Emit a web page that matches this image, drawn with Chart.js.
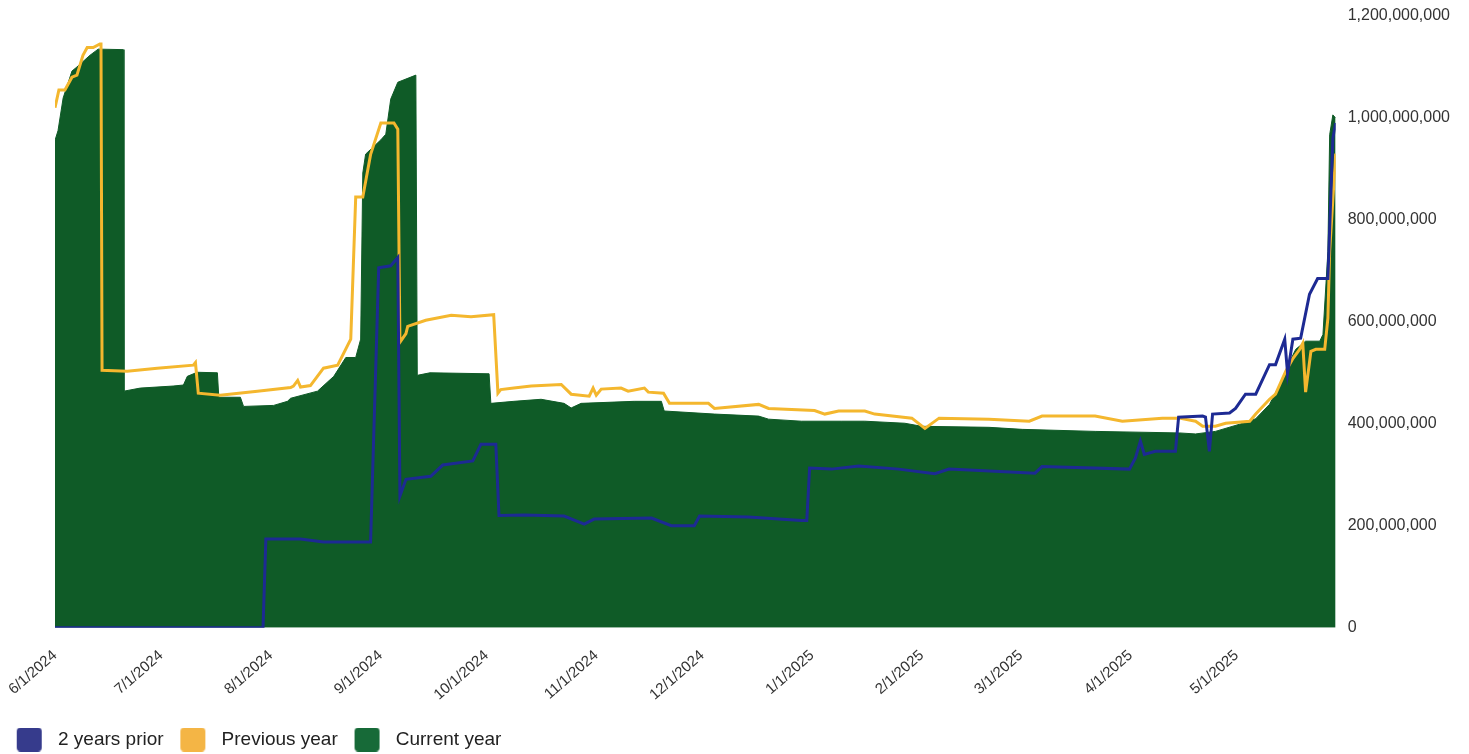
<!DOCTYPE html>
<html>
<head>
<meta charset="utf-8">
<title>Balances</title>
<script src="https://cdn.jsdelivr.net/npm/chart.js@4.4.1/dist/chart.umd.min.js"></script>
<style>
  html, body { margin: 0; padding: 0; background: #fff; }
  #wrap { width: 1469px; height: 754px; }
</style>
</head>
<body>
<div id="wrap"><canvas id="balanceChart"></canvas></div>
<script>
// x = days since 6/1/2024, y = millions
const tickDays = [0, 30, 61, 92, 122, 153, 183, 214, 245, 273, 304, 334];
const tickLabels = ["6/1/2024", "7/1/2024", "8/1/2024", "9/1/2024", "10/1/2024", "11/1/2024",
  "12/1/2024", "1/1/2025", "2/1/2025", "3/1/2025", "4/1/2025", "5/1/2025"];

const priorDays = [0, 58.8, 59.6, 69.4, 75.9, 89.2, 91.5, 94.9, 96.9, 97.5, 99.2, 106.2, 109.6, 118.1,
  120.4, 124.6, 125.5, 132.6, 143.9, 149.6, 152.4, 168.6, 174.2, 180.7, 182.2, 196, 211, 212.5, 213.3,
  219.5, 227.2, 238.5, 248.7, 252.7, 277, 279, 303.7, 305.4, 306.8, 307.9, 311, 316.7, 317.6, 324.4,
  325.2, 326.3, 327.2, 332, 333.7, 336.5, 339.4, 343.3, 345, 347.6, 348.4, 349.9, 352.1, 354.6, 356.9,
  359.8, 361.2, 362];
const priorValues = [0, 0, 174, 174, 168, 168, 706, 710, 726, 258, 291, 297, 319, 327,
  360, 360, 220, 221, 219, 203, 213, 215, 200, 200, 219, 217, 210, 210, 313,
  311, 317, 311, 302, 311, 303, 316, 311, 333, 366, 340, 346, 346, 413, 415,
  413, 346, 419, 421, 430, 458, 458, 516, 516, 566, 499, 566, 568, 654, 685,
  685, 960, 990];

const prevDays = [0, 1.1, 2.8, 4.8, 6.2, 7.9, 9.1, 10.8, 12.7, 13, 13.3, 20.4, 28.9, 39.1, 39.7, 40.5,
  46.7, 57.2, 66.6, 67.4, 68.6, 69.4, 72.2, 75.9, 79.9, 83.6, 85, 87, 89.2, 92.1, 95.8, 96.9, 97.5,
  99.2, 99.7, 104.8, 112, 117.6, 124, 125.2, 126, 129.7, 134.6, 143.1, 145.9, 151, 152.1, 153, 154.4,
  160, 162, 166.6, 167.7, 172, 173.7, 184.7, 186.4, 198.9, 201.7, 214.7, 217.6, 221.5, 228.9, 231.7,
  242.2, 245.9, 249.9, 264, 275.4, 279, 294, 301.7, 313, 317.8, 322.4, 324.4, 328, 330.9, 337.7, 339.4,
  343.3, 345, 347.9, 349.9, 351.8, 352.7, 353.5, 355, 356.4, 358.9, 359.8, 360.3, 362];
const prevValues = [1020, 1055, 1055, 1080, 1084, 1123, 1138, 1138, 1145, 1145, 505, 503, 509, 515, 520, 460,
  456, 464, 471, 474, 485, 472, 475, 509, 515, 566, 845, 845, 928, 990, 990, 978, 560,
  577, 591, 603, 613, 610, 614, 460, 467, 470, 474, 477, 458, 454, 470, 456, 468,
  470, 464, 470, 462, 460, 440, 440, 430, 438, 430, 426, 419, 425, 425, 419,
  411, 391, 411, 409, 405, 415, 415, 405, 411, 411, 405, 395, 395, 401, 405, 419,
  448, 458, 503, 528, 546, 558, 462, 542, 546, 546, 607, 738, 930];

const currDays = [0, 0.85, 2.3, 4.8, 6.2, 9.9, 12.2, 19.3, 19.5, 24.1, 33.4, 36.3, 37.4, 40.2, 45.9,
  46.3, 52.4, 53.3, 61.8, 65.7, 66.6, 74.2, 78.8, 82.2, 85, 86.4, 87, 87.8, 92.1, 93.5, 94.9, 96.9,
  102, 102.4, 106, 122.7, 123.2, 129.7, 137.4, 143.9, 145.9, 148.7, 163.7, 171.4, 172.2, 186.4, 198.9,
  201.7, 211, 222.4, 228.9, 240.2, 245, 264, 273.4, 294, 317.8, 322.4, 328, 337.7, 339.4, 343.3,
  346.2, 349, 350.7, 353.5, 357.5, 358.4, 359.8, 360.3, 361.2, 362];
const currValues = [956, 975, 1039, 1092, 1100, 1123, 1135, 1134, 464, 470, 474, 476, 493, 501, 500,
  452, 452, 434, 436, 444, 450, 464, 493, 530, 530, 566, 892, 929, 957, 968, 1037, 1070,
  1084, 495, 500, 498, 440, 444, 448, 440, 431, 440, 444, 444, 425, 419, 415,
  409, 405, 405, 405, 401, 395, 393, 389, 385, 382, 380, 385, 405, 410, 438,
  477, 522, 546, 562, 562, 575, 738, 967, 1006, 1000];

const toPoints = (days, values) => days.map((d, i) => ({ x: d, y: values[i] }));

// rounded legend swatch, shifted right inside its canvas to open a gap before the text
function makeSwatch(color) {
  const c = document.createElement("canvas");
  c.width = 35;
  c.height = 24;
  const g = c.getContext("2d");
  g.fillStyle = color;
  g.beginPath();
  g.roundRect(3, 0, 25, 24, 4);
  g.fill();
  return c;
}

const font = "Liberation Sans, Arial, Helvetica, sans-serif";

const ctx = document.getElementById("balanceChart").getContext("2d");
new Chart(ctx, {
  type: "line",
  data: {
    datasets: [
      {
        label: "2 years prior",
        data: toPoints(priorDays, priorValues),
        borderColor: "#1d2a93",
        backgroundColor: "#363b8c",
        pointStyle: makeSwatch("#363b8c"),
        borderWidth: 3,
        pointRadius: 0,
        fill: false
      },
      {
        label: "Previous year",
        data: toPoints(prevDays, prevValues),
        borderColor: "#f4b72e",
        backgroundColor: "#f4b545",
        pointStyle: makeSwatch("#f4b545"),
        borderWidth: 3,
        pointRadius: 0,
        fill: false
      },
      {
        label: "Current year",
        data: toPoints(currDays, currValues),
        borderColor: "#0f5b27",
        backgroundColor: "#0f5b27",
        pointStyle: makeSwatch("#176a38"),
        borderWidth: 1,
        pointRadius: 0,
        fill: "origin"
      }
    ]
  },
  options: {
    responsive: true,
    maintainAspectRatio: false,
    animation: false,
    layout: { padding: { top: 0, right: 7, bottom: -5, left: 0 } },
    plugins: {
      tooltip: { enabled: false },
      legend: {
        position: "bottom",
        align: "start",
        labels: {
          color: "#222",
          font: { family: font, size: 19 },
          usePointStyle: true,
          pointStyleWidth: 34.5,
          padding: 14
        }
      }
    },
    scales: {
      x: {
        type: "linear",
        min: 0,
        max: 362,
        grid: { display: false, drawTicks: false },
        border: { display: false },
        afterBuildTicks: (axis) => {
          axis.ticks = tickDays.map(v => ({ value: v }));
        },
        afterFit: (axis) => {
          axis.paddingLeft = 55;
          axis.height -= 7;
        },
        ticks: {
          autoSkip: false,
          minRotation: 41,
          maxRotation: 41,
          padding: 19,
          color: "#333",
          font: { family: font, size: 15 },
          callback: (value) => tickLabels[tickDays.indexOf(value)]
        }
      },
      y: {
        position: "right",
        min: 0,
        max: 1200,
        grid: { display: false, drawTicks: false },
        border: { display: false },
        afterFit: (axis) => {
          axis.paddingTop = 16;
        },
        ticks: {
          stepSize: 200,
          padding: 12,
          color: "#333",
          font: { family: font, size: 16 },
          callback: (value) => (value * 1e6).toLocaleString("en-US")
        }
      }
    }
  }
});
</script>
</body>
</html>
